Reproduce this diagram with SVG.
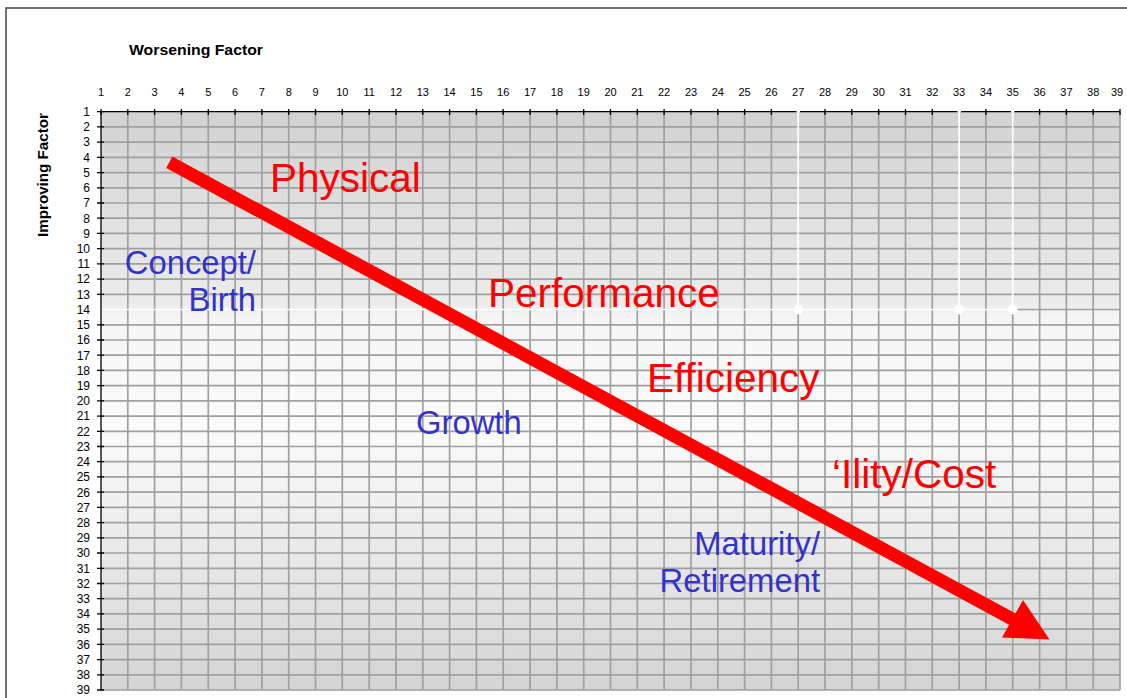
<svg xmlns="http://www.w3.org/2000/svg" width="1127" height="698" viewBox="0 0 1127 698">
<defs>
<linearGradient id="bg" x1="0" y1="112" x2="0" y2="690" gradientUnits="userSpaceOnUse">
<stop offset="0" stop-color="#d2d2d2"/>
<stop offset="0.33" stop-color="#ececec"/>
<stop offset="0.36" stop-color="#f6f6f6"/>
<stop offset="0.55" stop-color="#fbfbfb"/>
<stop offset="1" stop-color="#d4d4d4"/>
</linearGradient>
<style>
.ax{font-family:"Liberation Sans",Arial,sans-serif;font-size:11px;fill:#000}
.ry{font-size:12px}
.ttl{font-family:"Liberation Sans",Arial,sans-serif;font-size:14px;font-weight:bold;fill:#000}
.red{font-family:"Liberation Sans",Arial,sans-serif;font-size:40.5px;fill:#ff0000}
.blue{font-family:"Liberation Sans",Arial,sans-serif;font-size:32.8px;fill:#3333cc}
.grid{stroke:#a0a0a0;stroke-width:1.7;fill:none}
.axis{stroke:#000;stroke-width:1.3;fill:none}
</style>
</defs>
<rect x="0" y="0" width="1127" height="698" fill="#fff"/>
<rect x="6" y="8" width="1140" height="720" fill="none" stroke="#444" stroke-width="1.5"/>
<rect x="101" y="111.7" width="1019" height="578.3" fill="url(#bg)"/>
<g id="grid">
<path class="grid" d="M127.8 112V690M154.6 112V690M181.4 112V690M208.3 112V690M235.1 112V690M261.9 112V690M288.7 112V690M315.5 112V690M342.3 112V690M369.2 112V690M396 112V690M422.8 112V690M449.6 112V690M476.4 112V690M503.2 112V690M530.1 112V690M556.9 112V690M583.7 112V690M610.5 112V690M637.3 112V690M664.1 112V690M691 112V690M717.8 112V690M744.6 112V690M771.4 112V690M798.2 309.5V690M825 112V690M851.8 112V690M878.7 112V690M905.5 112V690M932.3 112V690M959.1 309.5V690M985.9 112V690M1012.7 309.5V690M1039.6 112V690M1066.4 112V690M1093.2 112V690M1120 112V690"/>
<path class="grid" d="M101 126.9H1120M101 142.1H1120M101 157.4H1120M101 172.6H1120M101 187.8H1120M101 203H1120M101 218.2H1120M101 233.4H1120M101 248.7H1120M101 263.9H1120M101 279.1H1120M101 294.3H1120M1012.7 309.5H1120M101 324.8H1120M101 340H1120M101 355.2H1120M101 370.4H1120M101 385.6H1120M101 400.9H1120M101 416.1H1120M101 431.3H1120M101 446.5H1120M101 461.7H1120M101 476.9H1120M101 492.2H1120M101 507.4H1120M101 522.6H1120M101 537.8H1120M101 553H1120M101 568.3H1120M101 583.5H1120M101 598.7H1120M101 613.9H1120M101 629.1H1120M101 644.3H1120M101 659.6H1120M101 674.8H1120M101 690H1120"/>
<path d="M101 309.5H1012.7M798.2 106V309.5M959.1 106V309.5M1012.7 106V309.5" stroke="#ffffff" stroke-width="1.7" fill="none"/>
<circle cx="798.2" cy="309.5" r="5" fill="#fff"/>
<circle cx="959.1" cy="309.5" r="5" fill="#fff"/>
<circle cx="1012.7" cy="309.5" r="5" fill="#fff"/>
<path class="axis" d="M101 111.7H796.5M800 111.7H957.5M961 111.7H1011M1014.5 111.7H1120M101 111.7V690"/>
<path class="axis" d="M101 109V115M127.8 109V115M154.6 109V115M181.4 109V115M208.3 109V115M235.1 109V115M261.9 109V115M288.7 109V115M315.5 109V115M342.3 109V115M369.2 109V115M396 109V115M422.8 109V115M449.6 109V115M476.4 109V115M503.2 109V115M530.1 109V115M556.9 109V115M583.7 109V115M610.5 109V115M637.3 109V115M664.1 109V115M691 109V115M717.8 109V115M744.6 109V115M771.4 109V115M825 109V115M851.8 109V115M878.7 109V115M905.5 109V115M932.3 109V115M985.9 109V115M1039.6 109V115M1066.4 109V115M1093.2 109V115M1120 109V115"/>
<path class="axis" d="M97 111.7H104M97 126.9H104M97 142.1H104M97 157.4H104M97 172.6H104M97 187.8H104M97 203H104M97 218.2H104M97 233.4H104M97 248.7H104M97 263.9H104M97 279.1H104M97 294.3H104M97 324.8H104M97 340H104M97 355.2H104M97 370.4H104M97 385.6H104M97 400.9H104M97 416.1H104M97 431.3H104M97 446.5H104M97 461.7H104M97 476.9H104M97 492.2H104M97 507.4H104M97 522.6H104M97 537.8H104M97 553H104M97 568.3H104M97 583.5H104M97 598.7H104M97 613.9H104M97 629.1H104M97 644.3H104M97 659.6H104M97 674.8H104M97 690H104"/>
</g>
<g id="col-labels" class="ax" text-anchor="middle">
<text x="101" y="96">1</text><text x="127.8" y="96">2</text><text x="154.6" y="96">3</text><text x="181.4" y="96">4</text><text x="208.3" y="96">5</text><text x="235.1" y="96">6</text><text x="261.9" y="96">7</text><text x="288.7" y="96">8</text><text x="315.5" y="96">9</text><text x="342.3" y="96">10</text><text x="369.2" y="96">11</text><text x="396" y="96">12</text><text x="422.8" y="96">13</text><text x="449.6" y="96">14</text><text x="476.4" y="96">15</text><text x="503.2" y="96">16</text><text x="530.1" y="96">17</text><text x="556.9" y="96">18</text><text x="583.7" y="96">19</text><text x="610.5" y="96">20</text><text x="637.3" y="96">21</text><text x="664.1" y="96">22</text><text x="691" y="96">23</text><text x="717.8" y="96">24</text><text x="744.6" y="96">25</text><text x="771.4" y="96">26</text><text x="798.2" y="96">27</text><text x="825" y="96">28</text><text x="851.8" y="96">29</text><text x="878.7" y="96">30</text><text x="905.5" y="96">31</text><text x="932.3" y="96">32</text><text x="959.1" y="96">33</text><text x="985.9" y="96">34</text><text x="1012.7" y="96">35</text><text x="1039.6" y="96">36</text><text x="1066.4" y="96">37</text><text x="1093.2" y="96">38</text><text x="1117" y="96">39</text>
</g>
<g id="row-labels" class="ax ry" text-anchor="end">
<text x="90" y="116">1</text><text x="90" y="131.2">2</text><text x="90" y="146.4">3</text><text x="90" y="161.7">4</text><text x="90" y="176.9">5</text><text x="90" y="192.1">6</text><text x="90" y="207.3">7</text><text x="90" y="222.5">8</text><text x="90" y="237.7">9</text><text x="90" y="253">10</text><text x="90" y="268.2">11</text><text x="90" y="283.4">12</text><text x="90" y="298.6">13</text><text x="90" y="313.8">14</text><text x="90" y="329.1">15</text><text x="90" y="344.3">16</text><text x="90" y="359.5">17</text><text x="90" y="374.7">18</text><text x="90" y="389.9">19</text><text x="90" y="405.2">20</text><text x="90" y="420.4">21</text><text x="90" y="435.6">22</text><text x="90" y="450.8">23</text><text x="90" y="466">24</text><text x="90" y="481.2">25</text><text x="90" y="496.5">26</text><text x="90" y="511.7">27</text><text x="90" y="526.9">28</text><text x="90" y="542.1">29</text><text x="90" y="557.3">30</text><text x="90" y="572.6">31</text><text x="90" y="587.8">32</text><text x="90" y="603">33</text><text x="90" y="618.2">34</text><text x="90" y="633.4">35</text><text x="90" y="648.6">36</text><text x="90" y="663.9">37</text><text x="90" y="679.1">38</text><text x="90" y="694.3">39</text>
</g>
<g id="axis-titles">
<text class="ttl" x="129" y="55" textLength="134" lengthAdjust="spacingAndGlyphs">Worsening Factor</text>
<text class="ttl" transform="translate(48,237) rotate(-90)" textLength="124" lengthAdjust="spacingAndGlyphs">Improving Factor</text>
</g>
<g id="connectors">
<line x1="169.3" y1="162.3" x2="1014" y2="620" stroke="#ff0000" stroke-width="13"/>
<polygon points="1023,600 1002,637.5 1049.5,639.5" fill="#ff0000"/>
</g>
<g id="stage-physical"><text class="red" x="270" y="192">Physical</text></g>
<g id="stage-performance"><text class="red" x="488" y="307">Performance</text></g>
<g id="stage-efficiency"><text class="red" x="647" y="392">Efficiency</text></g>
<g id="stage-ility"><text class="red" x="832" y="488">‘Ility/Cost</text></g>
<g id="phase-concept" class="blue" text-anchor="end"><text x="256" y="274">Concept/</text><text x="256" y="311">Birth</text></g>
<g id="phase-growth"><text class="blue" x="416" y="434">Growth</text></g>
<g id="phase-maturity" class="blue" text-anchor="end"><text x="820" y="555">Maturity/</text><text x="820" y="592">Retirement</text></g>
</svg>
